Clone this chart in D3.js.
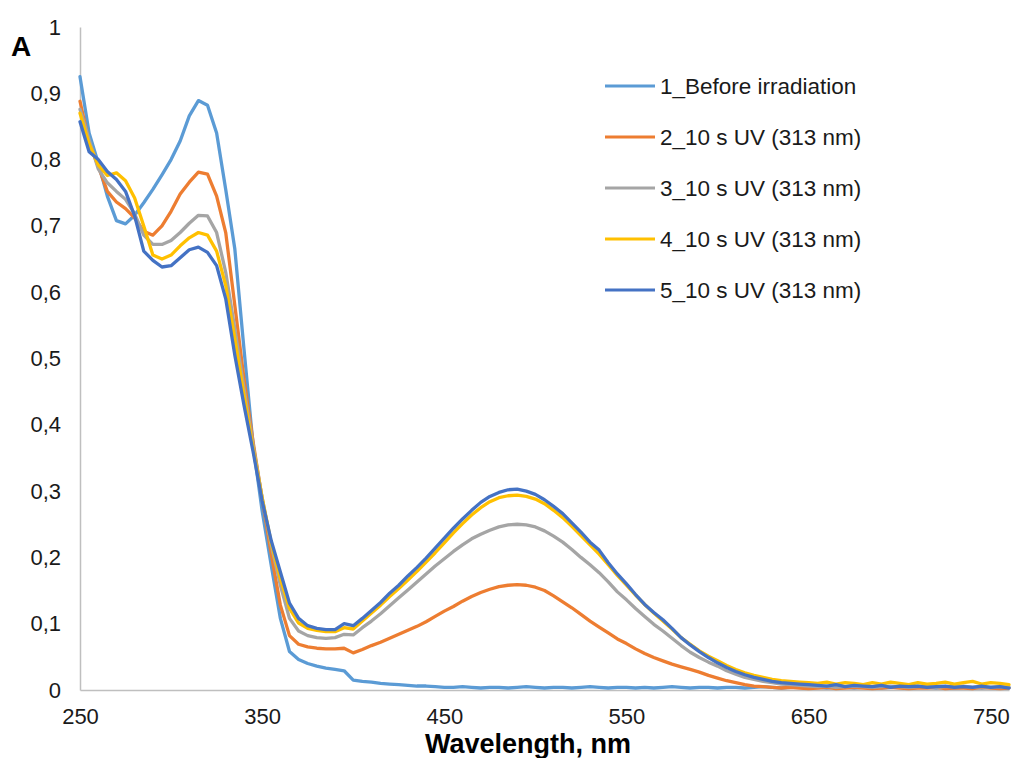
<!DOCTYPE html>
<html>
<head>
<meta charset="utf-8">
<script src="https://cdn.jsdelivr.net/npm/d3@7"></script>
<style>
  html, body { margin: 0; padding: 0; background: #fff; }
  svg { display: block; font-family: "Liberation Sans", Arial, sans-serif; }
</style>
</head>
<body>
<svg id="chart" width="1013" height="758"></svg>
<script>
// Absorption spectra, wavelength grid in nm
const wavelengths = [
  250,255,260,265,270,275,280,285,290,295,300,305,310,315,320,325,330,335,340,345,
  350,355,360,365,370,375,380,385,390,395,400,405,410,415,420,425,430,435,440,445,
  450,455,460,465,470,475,480,485,490,495,500,505,510,515,520,525,530,535,540,545,
  550,555,560,565,570,575,580,585,590,595,600,605,610,615,620,625,630,635,640,645,
  650,655,660,665,670,675,680,685,690,695,700,705,710,715,720,725,730,735,740,745,
  750,755,760
];

const seriesNames = [
  "1_Before irradiation",
  "2_10 s UV (313 nm)",
  "3_10 s UV (313 nm)",
  "4_10 s UV (313 nm)",
  "5_10 s UV (313 nm)"
];

const absBefore = [
  0.925,0.840,0.795,0.745,0.708,0.703,0.716,0.735,0.755,0.777,0.800,0.828,0.866,0.889,0.882,0.840,0.755,0.665,0.515,0.370,
  0.270,0.188,0.108,0.058,0.046,0.040,0.036,0.033,0.031,0.029,0.015,0.013,0.012,0.010,0.009,0.008,0.007,0.006,0.006,0.005,
  0.004,0.004,0.005,0.004,0.003,0.004,0.004,0.003,0.004,0.005,0.004,0.003,0.004,0.004,0.003,0.004,0.005,0.004,0.003,0.004,
  0.004,0.003,0.004,0.003,0.004,0.005,0.004,0.003,0.004,0.004,0.003,0.004,0.004,0.003,0.004,0.005,0.004,0.003,0.004,0.004,
  0.003,0.004,0.003,0.004,0.004,0.003,0.004,0.005,0.003,0.004,0.004,0.003,0.004,0.004,0.003,0.004,0.003,0.004,0.004,0.003,
  0.004,0.003,0.004
];

const absUv2 = [
  0.888,0.826,0.790,0.752,0.736,0.726,0.712,0.692,0.686,0.700,0.722,0.748,0.766,0.781,0.778,0.745,0.690,0.580,0.470,0.375,
  0.288,0.205,0.128,0.082,0.069,0.065,0.063,0.062,0.062,0.063,0.056,0.061,0.067,0.072,0.078,0.084,0.090,0.096,0.103,0.111,
  0.119,0.126,0.134,0.141,0.147,0.152,0.156,0.158,0.159,0.158,0.155,0.150,0.142,0.133,0.124,0.114,0.104,0.095,0.086,0.077,
  0.070,0.062,0.055,0.049,0.044,0.039,0.035,0.031,0.027,0.022,0.018,0.014,0.011,0.008,0.006,0.005,0.004,0.003,0.004,0.003,
  0.002,0.003,0.004,0.002,0.003,0.004,0.003,0.002,0.003,0.004,0.003,0.002,0.003,0.003,0.004,0.002,0.003,0.003,0.002,0.004,
  0.003,0.002,0.003
];

const absUv3 = [
  0.876,0.830,0.786,0.765,0.752,0.740,0.718,0.686,0.672,0.672,0.678,0.690,0.704,0.716,0.715,0.690,0.630,0.545,0.455,0.370,
  0.290,0.218,0.158,0.108,0.089,0.082,0.079,0.078,0.079,0.084,0.083,0.094,0.104,0.115,0.127,0.139,0.151,0.163,0.175,0.187,
  0.198,0.209,0.219,0.228,0.235,0.241,0.246,0.249,0.250,0.249,0.246,0.240,0.232,0.223,0.212,0.200,0.189,0.177,0.163,0.148,
  0.136,0.123,0.111,0.099,0.089,0.078,0.067,0.057,0.049,0.042,0.036,0.029,0.024,0.019,0.016,0.013,0.011,0.009,0.008,0.007,
  0.006,0.005,0.006,0.004,0.005,0.006,0.005,0.004,0.005,0.006,0.005,0.004,0.005,0.006,0.004,0.005,0.005,0.006,0.004,0.005,
  0.004,0.005,0.004
];

const absUv4 = [
  0.870,0.824,0.792,0.776,0.780,0.768,0.742,0.700,0.656,0.650,0.656,0.670,0.682,0.690,0.686,0.662,0.610,0.530,0.445,0.365,
  0.290,0.222,0.168,0.123,0.101,0.093,0.090,0.088,0.088,0.094,0.092,0.104,0.116,0.128,0.141,0.153,0.166,0.179,0.193,0.207,
  0.222,0.237,0.251,0.264,0.275,0.284,0.290,0.293,0.294,0.292,0.288,0.281,0.271,0.260,0.247,0.233,0.219,0.205,0.189,0.173,
  0.158,0.143,0.129,0.116,0.104,0.092,0.079,0.069,0.059,0.051,0.044,0.037,0.031,0.026,0.022,0.019,0.016,0.014,0.013,0.012,
  0.011,0.010,0.012,0.009,0.011,0.010,0.008,0.011,0.009,0.012,0.010,0.008,0.011,0.009,0.010,0.012,0.009,0.011,0.013,0.009,
  0.011,0.010,0.008
];

const absUv5 = [
  0.857,0.812,0.800,0.782,0.770,0.752,0.715,0.662,0.648,0.638,0.640,0.652,0.664,0.668,0.660,0.640,0.590,0.505,0.430,0.360,
  0.285,0.225,0.178,0.131,0.108,0.097,0.093,0.091,0.091,0.100,0.097,0.108,0.120,0.132,0.146,0.158,0.172,0.185,0.199,0.214,
  0.229,0.244,0.258,0.271,0.283,0.292,0.298,0.302,0.303,0.300,0.295,0.287,0.277,0.266,0.252,0.238,0.223,0.211,0.192,0.175,
  0.160,0.144,0.129,0.117,0.106,0.093,0.079,0.068,0.058,0.049,0.041,0.034,0.028,0.023,0.019,0.016,0.013,0.011,0.010,0.009,
  0.008,0.007,0.006,0.008,0.005,0.007,0.006,0.005,0.007,0.004,0.006,0.005,0.006,0.004,0.005,0.006,0.004,0.005,0.004,0.006,
  0.004,0.005,0.003
];

const seriesColors = ["#5B9BD5", "#ED7D31", "#A5A5A5", "#FFC000", "#4472C4"];
const xTicks = [250, 350, 450, 550, 650, 750];
const yTicks = [0, 0.1, 0.2, 0.3, 0.4, 0.5, 0.6, 0.7, 0.8, 0.9, 1];

const seriesValues = [absBefore, absUv2, absUv3, absUv4, absUv5];
const series = seriesNames.map((name, i) => ({
  name,
  color: seriesColors[i],
  points: wavelengths.map((w, j) => ({ w, a: seriesValues[i][j] }))
}));

const svg = d3.select("#chart");
const x = d3.scaleLinear().domain([250, 760]).range([80, 1009]);
const y = d3.scaleLinear().domain([0, 1]).range([690, 27]);

const commaLocale = d3.formatLocale({ decimal: ",", thousands: " ", grouping: [3], currency: ["", ""] });
const fmt = commaLocale.format("~g");

// Axes: thin grey lines without tick marks
const xAxis = svg.append("g")
  .attr("transform", `translate(0,${y(0)})`)
  .call(d3.axisBottom(x).tickValues(xTicks).tickSize(0).tickPadding(18).tickFormat(d3.format("d")));
xAxis.select(".domain").attr("stroke", "#BFBFBF").attr("stroke-width", 1.5);
xAxis.selectAll("text").attr("font-size", 22).attr("fill", "#1a1a1a")
  .attr("font-family", "'Liberation Sans', Arial, sans-serif");

const yAxis = svg.append("g")
  .attr("transform", `translate(${x(250)},0)`)
  .call(d3.axisLeft(y).tickValues(yTicks).tickSize(0).tickPadding(19).tickFormat(fmt));
yAxis.select(".domain").attr("stroke", "#BFBFBF").attr("stroke-width", 1.5);
yAxis.selectAll("text").attr("font-size", 22).attr("fill", "#1a1a1a")
  .attr("font-family", "'Liberation Sans', Arial, sans-serif");

// Spectra
const line = d3.line().x(d => x(d.w)).y(d => y(d.a));
svg.append("g").selectAll("path")
  .data(series)
  .join("path")
  .attr("d", d => line(d.points))
  .attr("fill", "none")
  .attr("stroke", d => d.color)
  .attr("stroke-width", 3.3)
  .attr("stroke-linejoin", "round")
  .attr("stroke-linecap", "round");

// Axis titles
svg.append("text")
  .attr("x", 11).attr("y", 56)
  .attr("font-size", 28).attr("font-weight", "bold").attr("fill", "#000")
  .text("A");

svg.append("text")
  .attr("x", 528).attr("y", 753)
  .attr("text-anchor", "middle")
  .attr("font-size", 27).attr("font-weight", "bold").attr("fill", "#000")
  .text("Wavelength, nm");

// Legend
const legend = svg.append("g").selectAll("g")
  .data(series)
  .join("g")
  .attr("transform", (d, i) => `translate(605,${86 + i * 51})`);
legend.append("line")
  .attr("x1", 0).attr("x2", 50)
  .attr("stroke", d => d.color).attr("stroke-width", 3);
legend.append("text")
  .attr("x", 55).attr("dy", "0.35em")
  .attr("font-size", 22.5).attr("fill", "#1a1a1a")
  .text(d => d.name);
</script>
</body>
</html>
